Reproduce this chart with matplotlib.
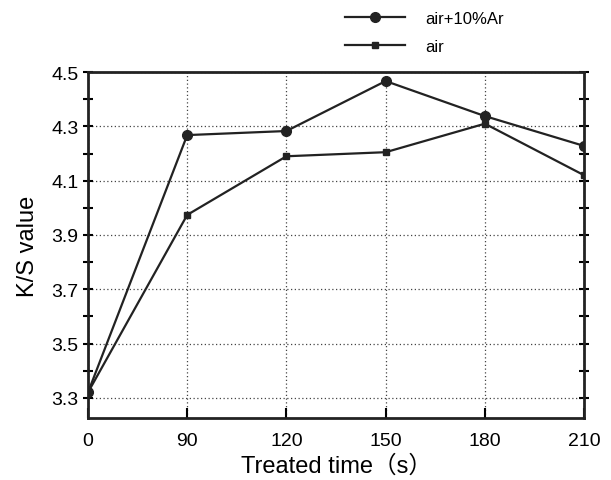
import matplotlib
matplotlib.use("Agg")
import matplotlib.pyplot as plt
from matplotlib.ticker import MultipleLocator

plt.rcParams['font.family'] = ['Liberation Sans', 'Noto Sans CJK SC', 'DejaVu Sans']

# data
time_labels = ["0", "90", "120", "150", "180", "210"]
ks_ar = [3.32, 4.268, 4.283, 4.467, 4.338, 4.228]
ks_air = [3.32, 3.974, 4.19, 4.205, 4.31, 4.12]

fig = plt.figure(figsize=(6.11, 4.81), dpi=100)
ax = fig.add_axes([0.144, 0.129, 0.812, 0.719])

pos = list(range(len(time_labels)))
l1, = ax.plot(pos, ks_ar, color="#222222", lw=1.6, marker="o", ms=7, label="air+10%Ar")
l2, = ax.plot(pos, ks_air, color="#222222", lw=1.6, marker="s", ms=4, label="air")

ax.set_xlim(0, 5)
ax.set_ylim(3.226, 4.5)
ax.set_xticks(pos)
ax.set_xticklabels(time_labels)
ax.set_yticks([3.3, 3.5, 3.7, 3.9, 4.1, 4.3, 4.5])
ax.yaxis.set_minor_locator(MultipleLocator(0.1))

ax.grid(True, which="major", linestyle=(0, (1, 2)), color="#444444", lw=0.9)
ax.tick_params(axis="y", which="both", direction="inout", right=True, length=7, width=1.5, labelsize=14)
ax.tick_params(axis="x", direction="in", length=7, width=1.5, labelsize=14, pad=10)
for s in ax.spines.values():
    s.set_linewidth(2)
    s.set_color("#222222")

ax.set_xlabel("Treated time（s）", fontsize=17, labelpad=4)
ax.set_ylabel("K/S value", fontsize=17, labelpad=9)

fig.legend(handles=[l1, l2], loc="upper left", bbox_to_anchor=(0.565, 0.975),
           frameon=False, fontsize=12, handlelength=3.6, handletextpad=1.2,
           labelspacing=0.75, borderpad=0, borderaxespad=0)

fig.savefig("out.png", dpi=100)
